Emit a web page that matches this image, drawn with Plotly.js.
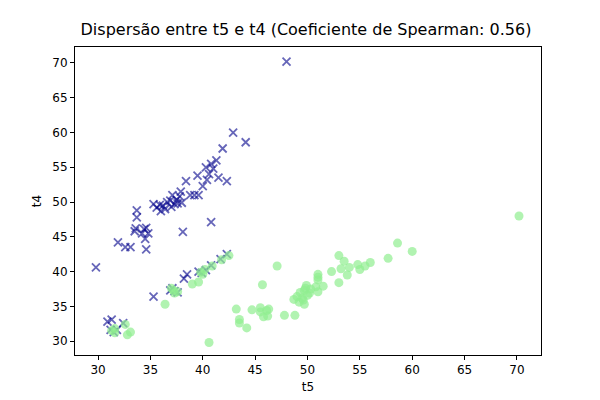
<!DOCTYPE html>
<html><head><meta charset="utf-8">
<script src="https://cdn.plot.ly/plotly-3.0.1.min.js"></script>
<style>body{margin:0}</style></head>
<body><div id="chart" style="width:600px;height:400px"></div>
<script>
// t5 / t4 pairs
const t5 = [29.8,31.9,32.6,33.1,33.5,33.6,33.7,33.7,34.2,34.4,34.6,34.6,34.8,34.5,35.3,35.6,35.9,36.0,36.2,36.4,36.6,36.9,37.0,37.1,37.3,37.5,37.6,37.8,38.0,38.1,37.9,38.4,38.8,39.2,39.5,39.6,40.0,40.3,40.4,40.6,40.8,40.8,41.0,41.3,41.5,41.9,42.3,42.9,44.1,48.0,
  30.9,31.2,31.3,31.5,31.8,32.4,35.3,36.9,37.1,37.3,37.6,38.2,38.5,39.6,39.9,40.3,40.8,41.7,42.3];
const t4 = [40.6,44.2,43.5,43.5,45.8,46.2,47.8,48.8,45.5,46.1,43.2,46.3,45.5,44.7,49.7,49.2,49.6,48.7,49.5,49.0,50.0,50.2,49.3,51.0,49.7,50.3,49.8,50.8,49.9,45.7,51.5,53.0,51.0,51.0,53.8,51.0,52.3,55.0,53.2,54.0,47.1,55.5,54.8,56.0,53.5,57.7,53.0,60.0,58.6,70.2,
  32.8,31.6,33.1,31.3,31.6,32.6,36.4,37.3,37.6,37.2,37.0,39.0,39.6,40.0,39.8,40.2,40.9,41.8,42.5];

const axis = {showgrid:false, zeroline:false, showline:true, mirror:true, linecolor:'#000', linewidth:1,
  ticks:'outside', ticklen:4, tickcolor:'#000', tickfont:{size:12,color:'#000'}, dtick:5};

Plotly.newPlot('chart', [
  {x:t5, y:t4, mode:'markers', type:'scatter',
   marker:{symbol:'x-thin-open', size:8, color:'rgba(0,0,139,0.6)', line:{width:1.8, color:'rgba(0,0,139,0.6)'}}},
  {x:t4, y:t5, mode:'markers', type:'scatter',
   marker:{symbol:'circle', size:9, color:'rgba(144,238,144,0.7)'}}
], {
  width:600, height:400, showlegend:false,
  font:{family:'DejaVu Sans', color:'#000'},
  paper_bgcolor:'#fff', plot_bgcolor:'#fff',
  margin:{l:75, r:59, t:47, b:45},
  title:{text:'Dispersão entre t5 e t4 (Coeficiente de Spearman: 0.56)', font:{size:16}, x:0.51, y:0.94},
  xaxis:Object.assign({}, axis, {range:[27.8,72.3], title:{text:'t5', font:{size:12}, standoff:6}}),
  yaxis:Object.assign({}, axis, {range:[28.0,72.3], title:{text:'t4', font:{size:12}, standoff:8}})
}, {displayModeBar:false});
</script></body></html>
